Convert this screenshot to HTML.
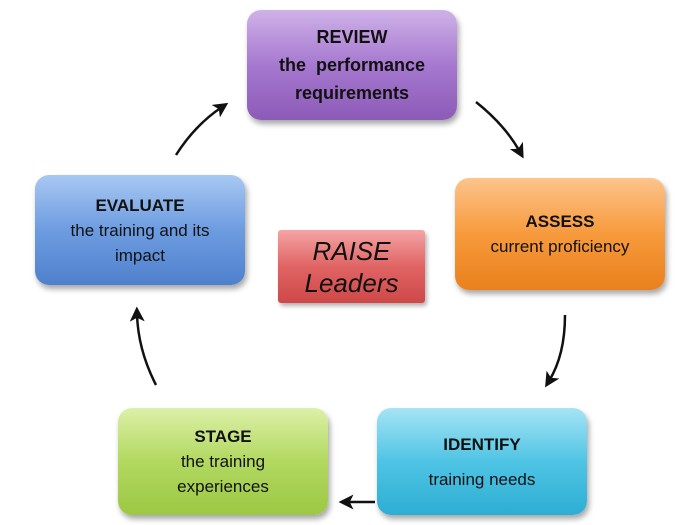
<!DOCTYPE html>
<html><head><style>
body{margin:0;width:700px;height:525px;background:#fff;position:relative;overflow:hidden;font-family:"Liberation Sans",sans-serif}
.b{position:absolute;border-radius:14px;text-align:center;color:#111;font-size:17px;line-height:25px;box-shadow:2px 4px 6px rgba(0,0,0,.35);box-sizing:border-box;display:flex;flex-direction:column;justify-content:center}
.b b{display:block}
</style></head><body>
<div class="b" style="left:247px;top:10px;width:210px;height:110px;background:linear-gradient(#cfb2e8,#a678cf 50%,#8c5bb8);font-size:18px;line-height:28px"><b>REVIEW</b><b>the&nbsp; performance<br>requirements</b></div>
<div class="b" style="left:455px;top:178px;width:210px;height:112px;background:linear-gradient(#fcc48c,#f79a3c 50%,#e9801d)"><b>ASSESS</b><span>current proficiency</span></div>
<div class="b" style="left:377px;top:408px;width:210px;height:107px;background:linear-gradient(#a6e4f4,#4fc4e4 50%,#2daed3)"><b>IDENTIFY</b><span style="margin-top:10px">training needs</span></div>
<div class="b" style="left:118px;top:408px;width:210px;height:107px;background:linear-gradient(#dcf0a8,#b2d860 50%,#9cc844)"><b>STAGE</b><span>the training<br>experiences</span></div>
<div class="b" style="left:35px;top:175px;width:210px;height:110px;background:linear-gradient(#a8c8f2,#6d9ce0 50%,#4f80cc)"><b>EVALUATE</b><span>the training and its<br>impact</span></div>
<div class="b" style="left:278px;top:230px;width:147px;height:73px;border-radius:3px;background:linear-gradient(#f4a4a4,#e06464 50%,#cf4848);font-style:italic;font-size:26px;line-height:32px;box-shadow:2px 3px 4px rgba(0,0,0,.3)"><span>RAISE<br>Leaders</span></div>
<svg width="700" height="525" style="position:absolute;left:0;top:0">
<defs><marker id="a" markerWidth="6" markerHeight="6" refX="3" refY="3" orient="auto" markerUnits="strokeWidth"><path d="M0,0 L6,3 L0,6 L1.5,3 Z" fill="#111"/></marker></defs>
<g fill="none" stroke="#111" stroke-width="2.5" marker-end="url(#a)">
<path d="M176,155 Q195,125 222,107"/>
<path d="M476,102 Q505,125 520,152"/>
<path d="M565,315 Q565,355 549,381"/>
<path d="M375,502 L346,502"/>
<path d="M156,385 Q138,350 137,314"/>
</g></svg>
</body></html>
